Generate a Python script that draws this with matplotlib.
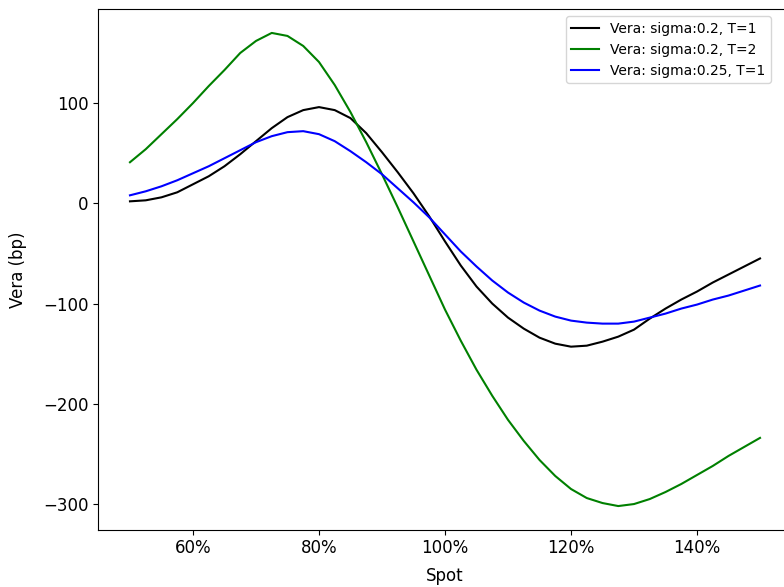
import numpy as np
import matplotlib
matplotlib.use("Agg")
import matplotlib.pyplot as plt
from matplotlib.ticker import PercentFormatter

plt.rcParams["font.size"] = 12

# spot as % of strike
spot = [50, 52.5, 55, 57.5, 60, 62.5, 65, 67.5, 70, 72.5, 75, 77.5, 80, 82.5, 85, 87.5,
        90, 92.5, 95, 97.5, 100, 102.5, 105, 107.5, 110, 112.5, 115, 117.5, 120, 122.5,
        125, 127.5, 130, 132.5, 135, 137.5, 140, 142.5, 145, 147.5, 150]

# Vera in bp
vera_s20_t1 = [2, 3, 6, 11, 19, 27, 37, 49, 62, 75, 86, 93, 96, 93, 85, 70,
               51, 31, 10, -13, -38, -62, -83, -100, -114, -125, -134, -140, -143, -142,
               -138, -133, -126, -115, -105, -96, -88, -79, -71, -63, -55]
vera_s20_t2 = [41, 54, 69, 84, 100, 117, 133, 150, 162, 170, 167, 157, 141, 118, 91, 61,
               29, -4, -38, -72, -106, -137, -166, -192, -216, -237, -256, -272, -285, -294,
               -299, -302, -300, -295, -288, -280, -271, -262, -252, -243, -234]
vera_s25_t1 = [8, 12, 17, 23, 30, 37, 45, 53, 61, 67, 71, 72, 69, 62, 52, 41,
               29, 15, 1, -14, -31, -48, -63, -77, -89, -99, -107, -113, -117, -119,
               -120, -120, -118, -114, -110, -105, -101, -96, -92, -87, -82]

fig = plt.figure(figsize=(7.84, 5.87), dpi=100)
ax = fig.add_axes([0.1256, 0.0976, 0.884, 0.8866])

ax.plot(spot, vera_s20_t1, color="black", label="Vera: sigma:0.2, T=1")
ax.plot(spot, vera_s20_t2, color="green", label="Vera: sigma:0.2, T=2")
ax.plot(spot, vera_s25_t1, color="blue", label="Vera: sigma:0.25, T=1")

ax.xaxis.set_major_formatter(PercentFormatter(decimals=0))
ax.set_xlabel("Spot", labelpad=7)
ax.set_ylabel("Vera (bp)", labelpad=12)
ax.legend(loc="upper right", bbox_to_anchor=(0.9805, 1.0), fontsize="small")

fig.savefig("out.png", dpi=100)
